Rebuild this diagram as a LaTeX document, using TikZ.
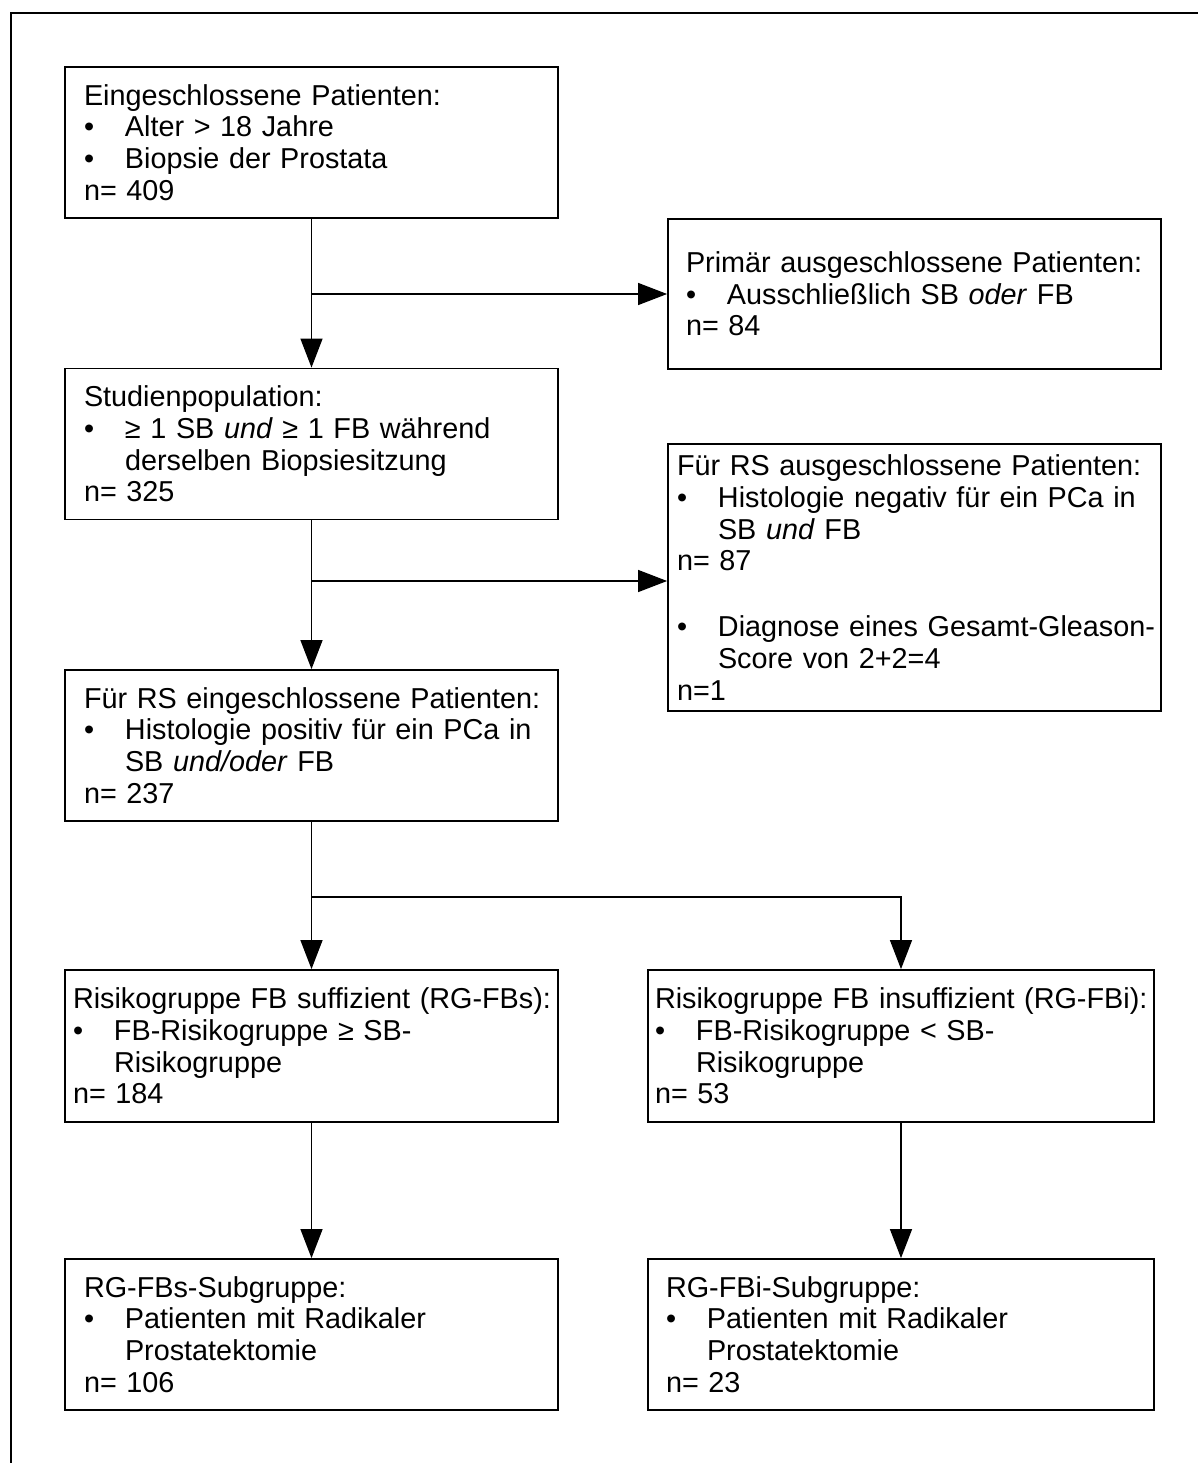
\documentclass[tikz,border=0pt]{standalone}
\usepackage{fontspec}
\setmainfont{Liberation Sans}
\usetikzlibrary{arrows.meta}
\newcommand\bitem[1]{\mbox{\makebox[41pt][l]{\textbullet}#1}}
\newcommand\bcont[1]{\mbox{\hspace*{41pt}#1}}
\begin{document}
\begin{tikzpicture}[x=1pt,y=-1pt,
  fbox/.style={draw, line width=1.8pt, rectangle, align=left, inner ysep=0pt,
    font=\fontsize{28.8}{31.7}\selectfont},
  conn/.style={line width=1.3pt},
  arr/.style={conn, -{Triangle[length=29pt,width=22pt]}}]
\useasboundingbox (0,0) rectangle (1197,1463);
\draw[line width=2pt] (11,1500) -- (11,13) -- (1230,13);

\node[fbox, minimum height=151pt, inner xsep=19pt, text width=455pt] (b1) at (311.5,142.5)
  {Eingeschlossene Patienten:\\
   \bitem{Alter > 18 Jahre}\\
   \bitem{Biopsie der Prostata}\\
   n= 409};
\node[fbox, minimum height=151pt, inner xsep=19pt, text width=455pt] (b2) at (311.5,444)
  {Studienpopulation:\\
   \bitem{≥ 1 SB \textit{und} ≥ 1 FB während}\\
   \bcont{derselben Biopsiesitzung}\\
   n= 325};
\node[fbox, minimum height=151pt, inner xsep=19pt, text width=455pt] (b3) at (311.5,745.5)
  {\mbox{Für RS eingeschlossene Patienten:}\\
   \bitem{Histologie positiv für ein PCa in}\\
   \bcont{SB \textit{und/oder} FB}\\
   n= 237};
\node[fbox, minimum height=150pt, inner xsep=18pt, text width=457pt] (p) at (914.5,294)
  {\mbox{Primär ausgeschlossene Patienten:}\\
   \bitem{Ausschließlich SB \textit{oder} FB}\\
   n= 84};
\node[fbox, minimum height=267pt, inner xsep=9pt, text width=475pt] (e) at (914.5,577.5)
  {\mbox{Für RS ausgeschlossene Patienten:}\\
   \bitem{Histologie negativ für ein PCa in}\\
   \bcont{SB \textit{und} FB}\\
   n= 87\\[34pt]
   \bitem{Diagnose eines Gesamt-Gleason-}\\
   \bcont{Score von 2+2=4}\\
   n=1};
\node[fbox, minimum height=152pt, inner xsep=8pt, text width=477pt] (b4l) at (311.5,1046)
  {\mbox{Risikogruppe FB suffizient (RG-FBs):}\\
   \bitem{FB-Risikogruppe ≥ SB-}\\
   \bcont{Risikogruppe}\\
   n= 184};
\node[fbox, minimum height=152pt, inner xsep=7pt, text width=492pt] (b4r) at (901,1046)
  {\mbox{Risikogruppe FB insuffizient (RG-FBi):}\\
   \bitem{FB-Risikogruppe < SB-}\\
   \bcont{Risikogruppe}\\
   n= 53};
\node[fbox, minimum height=151pt, inner xsep=19pt, text width=455pt] (b5l) at (311.5,1334.5)
  {RG-FBs-Subgruppe:\\
   \bitem{Patienten mit Radikaler}\\
   \bcont{Prostatektomie}\\
   n= 106};
\node[fbox, minimum height=151pt, inner xsep=18pt, text width=470pt] (b5r) at (901,1334.5)
  {RG-FBi-Subgruppe:\\
   \bitem{Patienten mit Radikaler}\\
   \bcont{Prostatektomie}\\
   n= 23};

\coordinate (j1) at (311.5,294);
\coordinate (j2) at (311.5,581);
\coordinate (j3) at (311.5,897);

\draw[arr] (b1.south) -- (b2.north);
\draw[arr] (j1) -- (p.west |- j1);
\draw[arr] (b2.south) -- (b3.north);
\draw[arr] (j2) -- (e.west |- j2);
\draw[arr] (b3.south) -- (b4l.north);
\draw[arr] (j3) -| (b4r.north);
\draw[arr] (b4l.south) -- (b5l.north);
\draw[arr] (b4r.south) -- (b5r.north);
\end{tikzpicture}
\end{document}
